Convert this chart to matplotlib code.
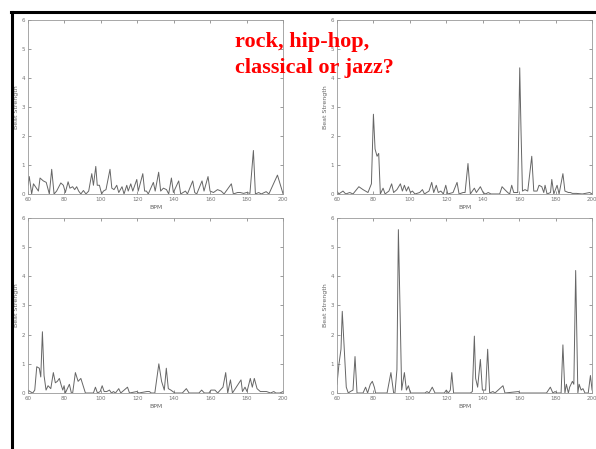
import matplotlib.pyplot as plt
from matplotlib.lines import Line2D

# beat histograms (BPM, beat strength)
bpm_a = [60, 60.7, 62, 63, 65.7, 66.6, 68.4, 70, 71.7, 73, 74.3, 75.7, 78, 79.4, 80.5, 82, 83, 84.5,
         85.6, 86.7, 87.8, 89, 90.4, 91.8, 93.3, 95, 95.9, 97.2, 98, 99.2, 100.4, 101.4, 102.8, 105,
         106, 107.2, 108.7, 109.8, 111.6, 112.7, 114.2, 115, 116.4, 117.5, 119.7, 120.5, 123, 124,
         125, 126, 128.8, 129.8, 131.7, 132.8, 134.3, 136, 137.2, 138.7, 139.8, 142.7, 143.8, 146.4,
         147.5, 150.4, 151.5, 152.6, 155.5, 156.6, 158.8, 159.9, 161.8, 164, 166, 167.6, 171.6,
         172.7, 175, 176.5, 178.3, 180, 181.8, 183.7, 184.8, 186.6, 188, 190.7, 192.2, 196.9, 200]
val_a = [0.3, 0.6, 0.0, 0.35, 0.1, 0.55, 0.45, 0.4, 0.0, 0.85, 0.0, 0.1, 0.38, 0.3, 0.05, 0.42, 0.2,
         0.25, 0.15, 0.25, 0.1, 0.0, 0.12, 0.0, 0.1, 0.7, 0.3, 0.95, 0.3, 0.3, 0.0, 0.1, 0.15, 0.85,
         0.2, 0.15, 0.3, 0.05, 0.25, 0.0, 0.3, 0.1, 0.35, 0.1, 0.5, 0.1, 0.7, 0.1, 0.1, 0.0, 0.4,
         0.1, 0.75, 0.1, 0.2, 0.15, 0.0, 0.55, 0.05, 0.45, 0.0, 0.1, 0.0, 0.45, 0.05, 0.0, 0.45,
         0.1, 0.6, 0.1, 0.05, 0.15, 0.1, 0.0, 0.35, 0.0, 0.05, 0.05, 0.02, 0.05, 0.02, 1.5, 0.0,
         0.05, 0.0, 0.08, 0.0, 0.65, 0.0]

bpm_b = [60, 61, 63.3, 64.8, 67, 68.8, 72, 74.3, 77, 78.9, 80, 80.9, 82, 82.9, 83.8, 85.3, 86.4, 88.5,
         90, 91.1, 92.9, 94.8, 95.9, 97, 98.1, 99.2, 100.3, 101.4, 102.8, 105.4, 106.9, 108, 110.5,
         112, 113.1, 114.5, 115.6, 117, 118.4, 119.7, 120.8, 123.7, 125.9, 127, 129.2, 130.3, 131.9,
         133.2, 135.4, 136.5, 138.7, 140.2, 141.6, 143, 144.5, 149.3, 150.6, 152.1, 153.7, 154.8,
         155.9, 157, 159.2, 160.3, 161, 161.8, 163.2, 164.7, 166.9, 168, 169.8, 170.9, 172.4, 173.5,
         174.2, 175.3, 177.2, 177.9, 179, 180.8, 181.9, 184, 185.1, 187, 188.1, 189.2, 191.4, 194.7,
         198.7, 200]
val_b = [0.1, 0.0, 0.1, 0.0, 0.05, 0.0, 0.25, 0.15, 0.05, 0.35, 2.75, 1.55, 1.3, 1.4, 0.0, 0.2, 0.0,
         0.1, 0.35, 0.05, 0.15, 0.35, 0.1, 0.3, 0.1, 0.25, 0.05, 0.1, 0.0, 0.05, 0.15, 0.0, 0.1, 0.4,
         0.05, 0.3, 0.05, 0.1, 0.0, 0.3, 0.0, 0.05, 0.4, 0.0, 0.05, 0.05, 1.05, 0.0, 0.2, 0.05, 0.25,
         0.05, 0.0, 0.05, 0.0, 0.0, 0.25, 0.15, 0.05, 0.0, 0.3, 0.05, 0.05, 4.35, 2.2, 0.1, 0.15,
         0.1, 1.3, 0.1, 0.1, 0.3, 0.25, 0.05, 0.3, 0.0, 0.05, 0.5, 0.0, 0.3, 0.0, 0.7, 0.1, 0.05, 0.05,
         0.02, 0.02, 0.0, 0.05, 0.0]

bpm_c = [60, 61.1, 62.6, 63.7, 64.8, 66.2, 67, 67.9, 68.8, 69.9, 71, 72.5, 73.9, 75, 76.1, 77.2, 78.3,
         79.1, 79.8, 80.5, 81.6, 82.7, 83.8, 84.5, 86, 87.5, 89, 90, 91.5, 95.9, 97, 98.1, 99.6, 100.7,
         101.8, 103.2, 104.7, 105.8, 106.9, 108, 109.8, 110.9, 114.6, 115.7, 119.7, 120.8, 125.2,
         126.6, 127.7, 129.6, 131.8, 133.3, 134.8, 135.9, 137, 138.4, 139.5, 140.6, 144.7, 146.9,
         148.4, 153.8, 155.3, 156.8, 159.3, 160.4, 162.6, 164.1, 165.5, 167, 168.5, 169.6, 171.1,
         172.2, 176.9, 177.7, 179.1, 180.2, 182, 183.1, 184.2, 185.7, 187.5, 189, 190.9, 193.1,
         194.9, 196, 198.2, 200]
val_c = [0.1, 0.05, 0.0, 0.1, 0.9, 0.85, 0.55, 2.1, 0.6, 0.1, 0.25, 0.15, 0.7, 0.35, 0.4, 0.5, 0.25,
         0.1, 0.25, 0.0, 0.15, 0.3, 0.0, 0.0, 0.7, 0.4, 0.5, 0.3, 0.0, 0.0, 0.2, 0.0, 0.05, 0.25, 0.05,
         0.05, 0.1, 0.0, 0.05, 0.0, 0.15, 0.0, 0.2, 0.0, 0.05, 0.0, 0.05, 0.05, 0.0, 0.0, 1.0, 0.4,
         0.1, 0.85, 0.15, 0.1, 0.05, 0.0, 0.0, 0.15, 0.0, 0.0, 0.1, 0.0, 0.0, 0.1, 0.1, 0.0, 0.1,
         0.2, 0.7, 0.0, 0.45, 0.0, 0.45, 0.05, 0.2, 0.05, 0.5, 0.2, 0.5, 0.15, 0.05, 0.05, 0.05,
         0.0, 0.05, 0.0, 0.0, 0.05]

bpm_d = [60, 61.1, 62.2, 62.9, 64, 65.1, 66.2, 67.3, 68.8, 69.9, 71, 74.3, 75.7, 76.8, 78.3, 79.4,
         80.5, 81.2, 87.5, 89.6, 91.1, 91.8, 92.9, 93.7, 94.4, 95.5, 97, 98.1, 99.2, 100.3, 108.3,
         109.4, 110.5, 112.3, 113.8, 118.9, 120, 121.1, 122.2, 123, 124, 133.2, 134.3, 135.4, 136.1,
         137.2, 138.7, 139.8, 141.6, 142.7, 143.8, 145.6, 146.7, 151.1, 152.2, 159.6, 160.3, 175,
         177.1, 178.5, 179.7, 180.8, 183, 184, 185.1, 185.9, 187, 187.7, 189.2, 190, 191, 192.2,
         192.9, 194, 195, 196.1, 197.9, 199.1, 200]
val_d = [0.3, 1.0, 1.5, 2.8, 1.5, 0.2, 0.0, 0.05, 0.1, 1.25, 0.0, 0.0, 0.2, 0.0, 0.3, 0.4, 0.2, 0.0,
         0.0, 0.7, 0.0, 0.0, 0.8, 5.6, 3.5, 0.1, 0.7, 0.1, 0.25, 0.0, 0.0, 0.05, 0.0, 0.2, 0.0, 0.0,
         0.1, 0.0, 0.1, 0.7, 0.0, 0.0, 0.05, 1.95, 0.5, 0.2, 1.15, 0.1, 0.1, 1.5, 0.0, 0.05, 0.0,
         0.25, 0.0, 0.05, 0.0, 0.0, 0.2, 0.0, 0.05, 0.0, 0.0, 1.65, 0.0, 0.3, 0.0, 0.2, 0.4, 0.3,
         4.2, 0.0, 0.3, 0.1, 0.15, 0.0, 0.0, 0.6, 0.1]

x_ticks = [60, 80, 100, 120, 140, 160, 180, 200]
y_ticks = [0, 1, 2, 3, 4, 5, 6]

fig = plt.figure(figsize=(5.96, 4.49), dpi=100)
fig.patch.set_facecolor('white')

# axes boxes in figure fraction (left, bottom, width, height)
boxes = [(0.047, 0.568, 0.428, 0.3875), (0.5654, 0.568, 0.428, 0.3875),
         (0.047, 0.1247, 0.428, 0.3898), (0.5654, 0.1247, 0.428, 0.3898)]
series = [(bpm_a, val_a), (bpm_b, val_b), (bpm_c, val_c), (bpm_d, val_d)]

for box, (xs, ys) in zip(boxes, series):
    ax = fig.add_axes(box)
    ax.plot(xs, ys, color='0.4', lw=0.7)
    ax.set_xlim(60, 200)
    ax.set_ylim(0, 6)
    ax.set_xticks(x_ticks)
    ax.set_yticks(y_ticks)
    ax.tick_params(direction='in', length=2.5, width=0.5, labelsize=4, colors='0.45',
                   top=True, right=True, pad=2)
    for s in ax.spines.values():
        s.set_color('0.6')
        s.set_linewidth(0.6)
    ax.set_xlabel('BPM', fontsize=4.5, color='0.4', labelpad=2)
    ax.set_ylabel('Beat Strength', fontsize=4.5, color='0.4', labelpad=2)

# slide frame
fig.add_artist(Line2D([11 / 596, 1.0], [1 - 11.5 / 449, 1 - 11.5 / 449], color='black', lw=2.2,
                      transform=fig.transFigure))
fig.add_artist(Line2D([12 / 596, 12 / 596], [0.0, 1 - 11.5 / 449], color='black', lw=2.2,
                      transform=fig.transFigure))

fig.text(235 / 596, 1 - 47 / 449, 'rock, hip-hop,', color='red', fontsize=16, fontweight='bold',
         family='Liberation Serif', va='baseline')
fig.text(235 / 596, 1 - 73 / 449, 'classical or jazz?', color='red', fontsize=16, fontweight='bold',
         family='Liberation Serif', va='baseline')

fig.savefig('out.png', dpi=100)
